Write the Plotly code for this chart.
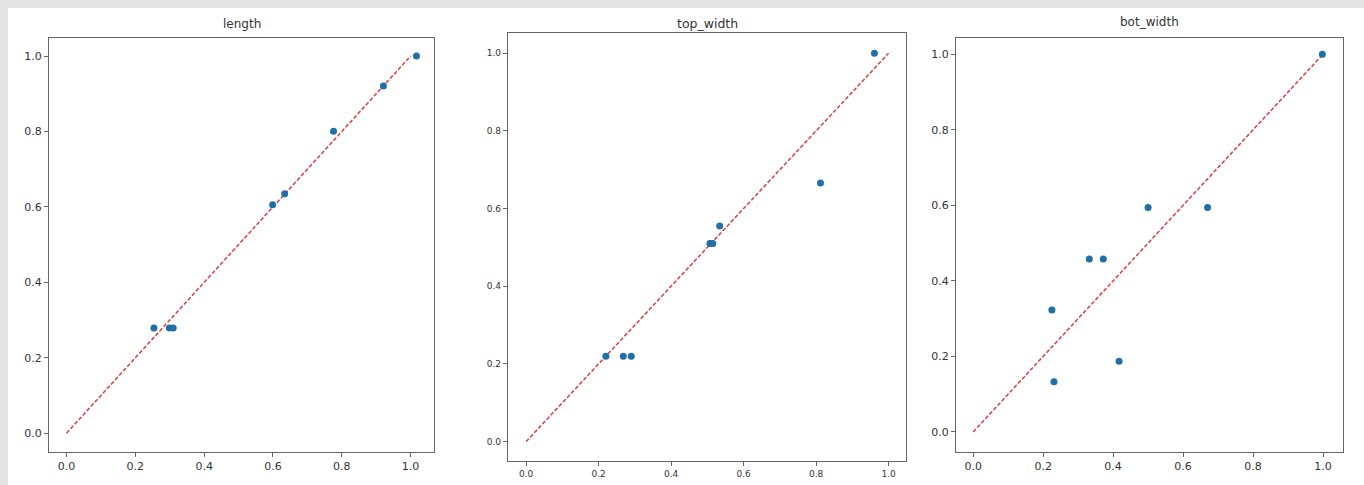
import plotly.graph_objects as go

# ---- data ----
titles = ["length", "top_width", "bot_width"]

length_x = [0.254, 0.299, 0.310, 0.599, 0.634, 0.776, 0.921, 1.017]
length_y = [0.279, 0.279, 0.279, 0.606, 0.635, 0.801, 0.921, 1.000]

top_x = [0.220, 0.268, 0.290, 0.507, 0.515, 0.534, 0.812, 0.961]
top_y = [0.220, 0.220, 0.220, 0.510, 0.510, 0.555, 0.666, 1.000]

bot_x = [0.225, 0.231, 0.332, 0.372, 0.417, 0.500, 0.670, 0.998]
bot_y = [0.323, 0.133, 0.458, 0.458, 0.187, 0.594, 0.594, 1.000]

diag_x = [0.0, 1.0]
diag_y = [0.0, 1.0]

tick_vals = [0.0, 0.2, 0.4, 0.6, 0.8, 1.0]
tick_text = ["0.0", "0.2", "0.4", "0.6", "0.8", "1.0"]

# ---- layout geometry (paper fractions) ----
W, H = 1364, 485
panels = [
    dict(x=(49, 434), y=(38, 452), xr=(-0.051, 1.068), yr=(-0.05, 1.048), fs=11, tfs=12, ty=24),
    dict(x=(508, 906), y=(33, 461), xr=(-0.05, 1.048), yr=(-0.05, 1.052), fs=9, tfs=12.5, ty=23),
    dict(x=(956, 1343), y=(38, 452), xr=(-0.049, 1.057), yr=(-0.053, 1.043), fs=11, tfs=12, ty=22),
]
series = [(length_x, length_y), (top_x, top_y), (bot_x, bot_y)]

fig = go.Figure()
font_family = "DejaVu Sans"

for i, (p, (sx, sy)) in enumerate(zip(panels, series)):
    n = "" if i == 0 else str(i + 1)
    xa, ya = "x" + n, "y" + n
    fig.add_trace(go.Scatter(x=diag_x, y=diag_y, mode="lines", xaxis=xa, yaxis=ya,
                             line=dict(color="rgb(214,62,68)", width=1.5, dash="4px,2px"),
                             showlegend=False, hoverinfo="skip"))
    fig.add_trace(go.Scatter(x=sx, y=sy, mode="markers", xaxis=xa, yaxis=ya,
                             marker=dict(color="#1f6fa8", size=7),
                             showlegend=False))
    axis_common = dict(
        showgrid=False, zeroline=False, showline=True, mirror=True,
        linecolor="#666666", linewidth=1.2, ticks="outside", ticklen=4,
        tickcolor="#666666", tickvals=tick_vals, ticktext=tick_text,
        tickfont=dict(family=font_family, size=p["fs"], color="#333333"),
        automargin=False, fixedrange=True,
    )
    fig.update_layout(**{
        ("xaxis" + n): dict(domain=[p["x"][0] / W, p["x"][1] / W], range=list(p["xr"]),
                            anchor=ya, **axis_common),
        ("yaxis" + n): dict(domain=[1 - p["y"][1] / H, 1 - p["y"][0] / H], range=list(p["yr"]),
                            anchor=xa, **axis_common),
    })
    fig.add_annotation(text=titles[i], xref="paper", yref="paper",
                       x=(p["x"][0] + p["x"][1]) / 2 / W, y=1 - p["ty"] / H,
                       xanchor="center", yanchor="middle", showarrow=False,
                       font=dict(family=font_family, size=p["tfs"], color="#333333"))

fig.add_shape(type="rect", xref="paper", yref="paper", x0=8 / W, x1=1.01, y0=-0.02, y1=1 - 8 / H,
              fillcolor="white", line=dict(width=0), layer="below")

fig.update_layout(
    width=W, height=H,
    margin=dict(l=0, r=0, t=0, b=0),
    paper_bgcolor="#e4e4e4",
    plot_bgcolor="white",
    showlegend=False,
)

fig.write_html("out.html", include_plotlyjs=True, full_html=True,
               config={"displayModeBar": False},
               post_script="document.body.style.margin='0';")
